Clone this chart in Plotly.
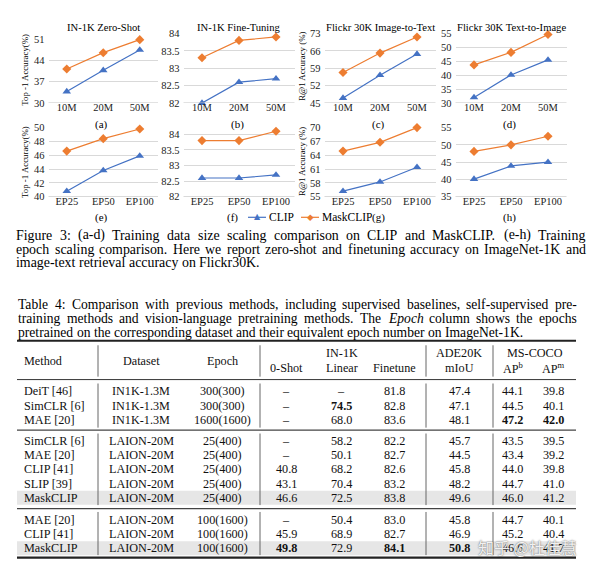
import re
import plotly.graph_objects as go

W, H = 600, 567
SERIF = "Liberation Serif, 'Times New Roman', serif"
BLUE = '#4472C4'
ORANGE = '#ED7D31'

# ---------------- chart data ----------------
size_cats = ['10M', '20M', '50M']
epoch_cats = ['EP25', 'EP50', 'EP100']

zs_clip = [33.8, 40.8, 47.5]
zs_mask = [41.2, 46.6, 50.9]
ft_clip = [82.0, 82.6, 82.7]
ft_mask = [83.3, 83.8, 83.9]
i2t_clip = [47.0, 56.2, 64.7]
i2t_mask = [57.3, 65.1, 71.6]
t2i_clip = [32.0, 40.1, 45.5]
t2i_mask = [43.7, 48.2, 54.6]

ep_zs_clip = [40.8, 43.8, 45.9]
ep_zs_mask = [46.6, 48.4, 49.8]
ep_ft_clip = [82.6, 82.6, 82.7]
ep_ft_mask = [83.8, 83.8, 84.1]
ep_i2t_clip = [56.2, 58.2, 61.4]
ep_i2t_mask = [64.9, 66.8, 70.0]
ep_t2i_clip = [40.1, 43.9, 45.0]
ep_t2i_mask = [48.1, 50.0, 52.5]

ticks_a = [30, 37, 44, 51]
ticks_b = [82, 82.5, 83, 83.5, 84]
ticks_c = [45, 52, 59, 66, 73]
ticks_d = [30, 35, 40, 45, 50, 55]
ticks_e = [40, 42, 44, 46, 48, 50]
ticks_f = [82, 82.5, 83, 83.5, 84, 84.25]
ticks_g = [55, 58, 61, 64, 67, 70]
ticks_h = [35, 40, 45, 50, 55]

titles = ['IN-1K Zero-Shot', 'IN-1K Fine-Tuning', 'Flickr 30K Image-to-Text', 'Flickr 30K Text-to-Image']
labels = ['(a)', '(b)', '(c)', '(d)', '(e)', '(f)', '(g)', '(h)']
ytitle_in = 'Top -1 Accuracy(%)'
ytitle_fl = 'R@1 Accuracy (%)'
series_names = ['CLIP', 'MaskCLIP']

# ---------------- table data ----------------
methods = ['DeiT [46]', 'SimCLR [6]', 'MAE [20]',
           'SimCLR [6]', 'MAE [20]', 'CLIP [41]', 'SLIP [39]', 'MaskCLIP',
           'MAE [20]', 'CLIP [41]', 'MaskCLIP']
datasets = ['IN1K-1.3M'] * 3 + ['LAION-20M'] * 8
epochs = ['300(300)', '300(300)', '1600(1600)'] + ['25(400)'] * 5 + ['100(1600)'] * 3
zero_shot = ['–', '–', '–', '–', '–', '40.8', '43.1', '46.6', '–', '45.9', '49.8']
linear = ['–', '74.5', '68.0', '58.2', '50.1', '68.2', '70.4', '72.5', '50.4', '68.9', '72.9']
finetune = ['81.8', '82.8', '83.6', '82.2', '82.7', '82.6', '83.2', '83.8', '83.0', '82.7', '84.1']
miou = ['47.4', '47.1', '48.1', '45.7', '44.5', '45.8', '48.2', '49.6', '45.8', '46.9', '50.8']
ap_box = ['44.1', '44.5', '47.2', '43.5', '43.4', '44.0', '44.7', '46.0', '44.7', '45.2', '46.6']
ap_mask = ['39.8', '40.1', '42.0', '39.5', '39.2', '39.8', '41.0', '41.2', '40.1', '40.4', '41.7']
bold_cells = {(1, 4), (2, 7), (2, 8), (10, 3), (10, 5), (10, 6)}
shaded_rows = [7, 10]

fig_caption = ["Figure 3: (a-d) Training data size scaling comparison on CLIP and MaskCLIP. (e-h) Training",
               "epoch scaling comparison. Here we report zero-shot and finetuning accuracy on ImageNet-1K and",
               "image-text retrieval accuracy on Flickr30K."]
tab_caption = ["Table 4: Comparison with previous methods, including supervised baselines, self-supervised pre-",
               "training methods and vision-language pretraining methods. The <i>Epoch</i> column shows the epochs",
               "pretrained on the corresponding dataset and their equivalent epoch number on ImageNet-1K."]

# ---------------- helpers ----------------
TW = {' ': 250, '!': 333, '(': 333, ')': 333, ',': 250, '-': 333, '.': 250, '/': 278, ':': 278, ';': 278,
      '@': 921, '%': 833, '[': 333, ']': 333,
      'A': 722, 'B': 667, 'C': 667, 'D': 722, 'E': 611, 'F': 556, 'G': 722, 'H': 722, 'I': 333, 'J': 389,
      'K': 722, 'L': 611, 'M': 889, 'N': 722, 'O': 722, 'P': 556, 'Q': 722, 'R': 667, 'S': 556, 'T': 611,
      'U': 722, 'V': 722, 'W': 944, 'X': 722, 'Y': 722, 'Z': 611,
      'a': 444, 'b': 500, 'c': 444, 'd': 500, 'e': 444, 'f': 333, 'g': 500, 'h': 500, 'i': 278, 'j': 278,
      'k': 500, 'l': 278, 'm': 778, 'n': 500, 'o': 500, 'p': 500, 'q': 500, 'r': 333, 's': 389, 't': 278,
      'u': 500, 'v': 500, 'w': 722, 'x': 500, 'y': 500, 'z': 444}


def tw(s, size):
    s = re.sub(r'<[^>]+>', '', s)
    return sum(TW.get(c, 500) for c in s) / 1000.0 * size


anns = []
shapes = []


def ann(x, y, text, size=11, xanchor='center', yanchor='middle', color='#111', family=SERIF, angle=0, **kw):
    d = dict(x=x / W, y=1 - y / H, xref='paper', yref='paper', text=text, showarrow=False,
             xanchor=xanchor, yanchor=yanchor, textangle=angle, borderpad=0,
             font=dict(family=family, size=size, color=color))
    d.update(kw)
    anns.append(d)


def hline(x0, x1, y, width=1, color='#222'):
    shapes.append(dict(type='line', xref='paper', yref='paper', x0=x0 / W, x1=x1 / W,
                       y0=1 - y / H, y1=1 - y / H, line=dict(color=color, width=width)))


def vline(x, y0, y1, width=1, color='#555'):
    shapes.append(dict(type='line', xref='paper', yref='paper', x0=x / W, x1=x / W,
                       y0=1 - y0 / H, y1=1 - y1 / H, line=dict(color=color, width=width)))


def rect(x0, x1, y0, y1, color):
    shapes.append(dict(type='rect', xref='paper', yref='paper', x0=x0 / W, x1=x1 / W,
                       y0=1 - y1 / H, y1=1 - y0 / H, line=dict(width=0), fillcolor=color, layer='below'))


# ---------------- charts ----------------
fig = go.Figure()

col_px = [(48.5, 158), (183.5, 294.5), (324.5, 435.5), (455.5, 566.5)]
panels = [
    (size_cats, zs_clip, zs_mask, ticks_a, 0, 100, 35),
    (size_cats, ft_clip, ft_mask, ticks_b, 1, 100, 29),
    (size_cats, i2t_clip, i2t_mask, ticks_c, 2, 100, 29),
    (size_cats, t2i_clip, t2i_mask, ticks_d, 3, 100, 29),
    (epoch_cats, ep_zs_clip, ep_zs_mask, ticks_e, 0, 195.5, 125),
    (epoch_cats, ep_ft_clip, ep_ft_mask, ticks_f, 1, 195.5, 124),
    (epoch_cats, ep_i2t_clip, ep_i2t_mask, ticks_g, 2, 195.5, 125),
    (epoch_cats, ep_t2i_clip, ep_t2i_mask, ticks_h, 3, 195.5, 125),
]

layout_axes = {}
for i, (cats, clip, mask, ticks, col, ybot, ytop) in enumerate(panels):
    n = i + 1
    xa, ya = ('x' if n == 1 else f'x{n}'), ('y' if n == 1 else f'y{n}')
    fig.add_trace(go.Scatter(x=cats, y=clip, mode='lines+markers', name=series_names[0],
                             line=dict(color=BLUE, width=1.2),
                             marker=dict(symbol='triangle-up', size=7.5, color=BLUE),
                             xaxis=xa, yaxis=ya, showlegend=False, cliponaxis=False))
    fig.add_trace(go.Scatter(x=cats, y=mask, mode='lines+markers', name=series_names[1],
                             line=dict(color=ORANGE, width=1.2),
                             marker=dict(symbol='diamond', size=7, color=ORANGE),
                             xaxis=xa, yaxis=ya, showlegend=False, cliponaxis=False))
    x0, x1 = col_px[col]
    span = ticks[-1] - ticks[0]
    ticktext = [('' if t == 84.25 else f'{t:g}') for t in ticks]
    layout_axes['xaxis' if n == 1 else f'xaxis{n}'] = dict(
        domain=[x0 / W, x1 / W], anchor='free', position=1 - (ybot - 3.5) / H,
        type='category', range=[-0.5, 2.5],
        showline=False, showgrid=False, ticks='', ticklen=0,
        tickfont=dict(family=SERIF, size=10.5, color='#222'), fixedrange=True)
    layout_axes['yaxis' if n == 1 else f'yaxis{n}'] = dict(
        domain=[1 - ybot / H, 1 - ytop / H], anchor=xa,
        range=[ticks[0] - span * 1e-4, ticks[-1] + span * 1e-4],
        tickmode='array', tickvals=ticks, ticktext=ticktext,
        showgrid=True, gridcolor='#D9D9D9', gridwidth=1,
        zeroline=False, showline=False, ticks='', ticklen=0, ticklabelstandoff=3,
        tickfont=dict(family=SERIF, size=10.5, color='#222'), fixedrange=True)
    # category axis baseline
    shapes.append(dict(type='line', xref=f'{xa} domain', yref=ya, x0=0, x1=1,
                       y0=ticks[0], y1=ticks[0], line=dict(color='#BFBFBF', width=1)))
    xc = (x0 + x1) / 2
    if i < 4:
        ann(xc, 22.5, titles[i], size=10.6, color='#000')
        ann(xc - 2, 121.5, labels[i], size=11, color='#000')
    else:
        ann(xc - 2 if col != 1 else 233, 216.5, labels[i], size=11, color='#000')

ann(25, 66, ytitle_in, size=8.8, angle=-90, color='#000')
ann(25, 160, ytitle_in, size=8.8, angle=-90, color='#000')
ann(302, 63, ytitle_fl, size=8.8, angle=-90, color='#000')
ann(302, 160, ytitle_fl, size=8.8, angle=-90, color='#000')

# legend (manual, under the middle of bottom row)
hline(248, 266, 216.5, width=1.2, color=BLUE)
ann(257, 216, '▲', size=8, color=BLUE, family='DejaVu Sans')
ann(268, 216.5, series_names[0], size=11.5, xanchor='left', color='#000')
hline(301, 319, 216.5, width=1.2, color=ORANGE)
ann(310, 216, '◆', size=8.5, color=ORANGE, family='DejaVu Sans')
ann(321, 216.5, series_names[1], size=11.5, xanchor='left', color='#000')


# ---------------- captions (justified) ----------------
def caption(lines, x0, x1, y0, pitch, size):
    for k, line in enumerate(lines):
        words = line.split(' ')
        widths = [tw(w, size) for w in words]
        last = (k == len(lines) - 1)
        gap = 0.25 * size if last else (x1 - x0 - sum(widths)) / (len(words) - 1)
        x = x0
        for w, wd in zip(words, widths):
            ann(x, y0 + k * pitch, w, size=size, xanchor='left', color='#000')
            x += wd + gap


caption(fig_caption, 15, 585, 235, 14, 13.9)
caption(tab_caption, 17, 576, 305.5, 14, 13.6)

# ---------------- table ----------------
TL, TR = 17, 576
row_y = [394, 408.5, 423, 444.5, 459, 473.5, 488, 502.5, 525, 539.5, 554]
for r in shaded_rows:
    rect(TL, TR, row_y[r] - 7.2, row_y[r] + 7.2, '#E6E6E6')

hline(TL, TR, 342.5, width=2, color='#222')
hline(TL, TR, 382, width=1, color='#333')
hline(TL, TR, 433.5, width=1.3, color='#444')
hline(TL, TR, 513.5, width=1.3, color='#444')
hline(TL, TR, 563.5, width=2.2, color='#222')

for vx in [98, 260, 426, 493]:
    for (a, b) in [(347, 379), (386, 431), (437, 510), (517, 561)]:
        vline(vx, a, b, width=1, color='#666')

TS = 12.2
ann(23, 363, 'Method', size=TS, xanchor='left')
ann(141, 363, 'Dataset', size=TS)
ann(222, 363, 'Epoch', size=TS)
ann(342, 355, 'IN-1K', size=TS)
ann(459, 355, 'ADE20K', size=TS)
ann(535, 355, 'MS-COCO', size=TS)
ann(286, 370.5, '0-Shot', size=TS)
ann(342, 370.5, 'Linear', size=TS)
ann(394, 370.5, 'Finetune', size=TS)
ann(459, 370.5, 'mIoU', size=TS)
ann(513, 370.5, 'AP<sup>b</sup>', size=TS)
ann(553, 370.5, 'AP<sup>m</sup>', size=TS)

columns = [methods, datasets, epochs, zero_shot, linear, finetune, miou, ap_box, ap_mask]
col_x = [23, 141, 222, 286, 341, 394, 459, 512, 553]
for c, (vals, cx) in enumerate(zip(columns, col_x)):
    for r, v in enumerate(vals):
        txt = f'<b>{v}</b>' if (r, c) in bold_cells else v
        ann(cx, row_y[r], txt, size=TS, xanchor='left' if c == 0 else 'center')

# watermark
ann(527, 553, '知乎 @杜佳慧', size=16, family='Noto Sans CJK SC',
    color='rgba(255,255,255,0.92)')
anns[-1]['font']['shadow'] = '0px 0px 1.5px rgba(40,40,40,0.9)'

fig.update_layout(width=W, height=H, autosize=False, margin=dict(l=0, r=0, t=0, b=0),
                  paper_bgcolor='white', plot_bgcolor='white', showlegend=False,
                  annotations=anns, shapes=shapes, **layout_axes)

fig.write_html("out.html", config={'displayModeBar': False},
               post_script="document.body.style.margin='0';document.body.style.padding='0';")
